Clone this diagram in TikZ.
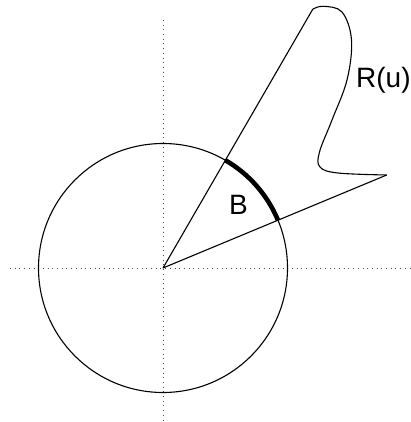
\documentclass[tikz,border=0pt]{standalone}
\usepackage{fontspec}
\setmainfont{Liberation Sans}
\begin{document}
\begin{tikzpicture}[x=1pt,y=-1pt,
  axis/.style={line width=0.9pt, black!70, dash pattern=on 0.9pt off 3.8pt},
  thin line/.style={line width=1.1pt, black},
  lbl/.style={font=\fontsize{28}{30}\selectfont, inner sep=0pt}]
\useasboundingbox (0,0) rectangle (411,422);
\coordinate (O) at (163,268);
\coordinate (P1) at (312.7,9.3);
\coordinate (P2) at (386.7,175);
\coordinate (VT) at (163,20);
\coordinate (VB) at (163,422);
\coordinate (HL) at (10,268);
\coordinate (HR) at (411,268);
\draw[axis] (VT) -- (VB);
\draw[axis] (HL) -- (HR);
\draw[thin line] (O) circle[radius=124.5];
\draw[thin line, line join=round] (P2) -- (O) -- (P1);
\draw[thin line] plot[smooth, tension=0.6] coordinates {(312.7,9.3) (323,6.3) (342,12) (351.5,40) (347,80) (332,120) (319.5,152) (320,167) (338,173) (386.7,175)};
\draw[line width=4.6pt] (O) ++(-60.1:124.5) arc[start angle=-60.1, end angle=-22.6, radius=124.5];
\node[lbl, anchor=base] (B) at (238.5,214.5) {B};
\node[lbl, anchor=base west] (R) at (356,87.5) {R(u)};
\end{tikzpicture}
\end{document}
